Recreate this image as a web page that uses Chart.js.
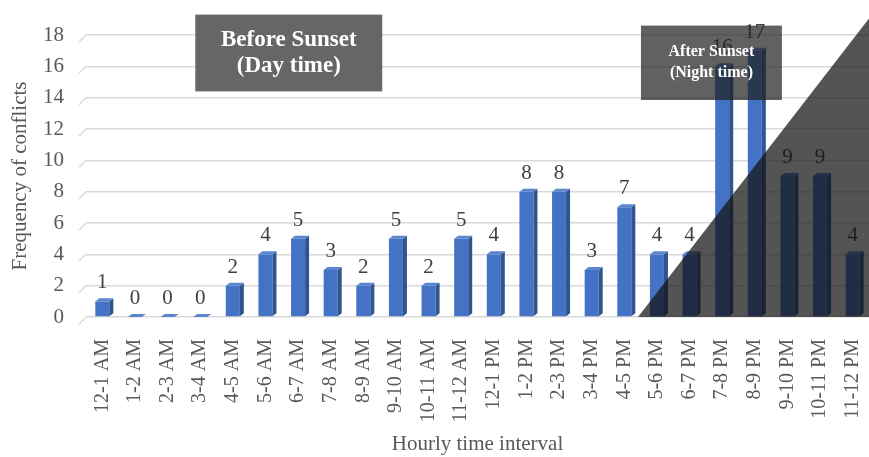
<!DOCTYPE html>
<html>
<head>
<meta charset="utf-8">
<script src="https://cdn.jsdelivr.net/npm/chart.js@4.4.1/dist/chart.umd.min.js"></script>
<style>
  html, body { margin: 0; padding: 0; background: #fff; }
  #wrap { width: 869px; height: 457px; }
</style>
</head>
<body>
<div id="wrap"><canvas id="conflictsChart"></canvas></div>
<script>
const hourLabels = [
  '12-1 AM', '1-2 AM', '2-3 AM', '3-4 AM', '4-5 AM', '5-6 AM', '6-7 AM', '7-8 AM',
  '8-9 AM', '9-10 AM', '10-11 AM', '11-12 AM', '12-1 PM', '1-2 PM', '2-3 PM', '3-4 PM',
  '4-5 PM', '5-6 PM', '6-7 PM', '7-8 PM', '8-9 PM', '9-10 PM', '10-11 PM', '11-12 PM'
];
const conflictCounts = [1, 0, 0, 0, 2, 4, 5, 3, 2, 5, 2, 5, 4, 8, 8, 3, 7, 4, 4, 16, 17, 9, 9, 4];
const yTicks = [0, 2, 4, 6, 8, 10, 12, 14, 16, 18];
const dayLabel = ['Before Sunset', '(Day time)'];
const nightLabel = ['After Sunset', '(Night time)'];

const serif = '"Liberation Serif", "Times New Roman", serif';

// overlay anchors, in data units (category index / count)
const dayBox = { x0: 2.85, x1: 8.58, y0: 19.3, y1: 14.4 };
const nightBox = { x0: 16.51, x1: 20.83, y0: 18.6, y1: 13.85 };
const nightTriangle = { xStart: 16.42, yTop: 19.05 };

// fake 3d: side and top faces, value labels, floor stubs on the grid
const bars3d = {
  id: 'bars3d',
  beforeDatasetsDraw(chart) {
    const { ctx, chartArea, scales: { y } } = chart;
    ctx.save();
    ctx.strokeStyle = '#d9d9d9';
    ctx.lineWidth = 1.5;
    yTicks.forEach(v => {
      const py = y.getPixelForValue(v);
      ctx.beginPath();
      ctx.moveTo(chartArea.left - 7, py + 7);
      ctx.lineTo(chartArea.left, py);
      ctx.stroke();
    });
    ctx.restore();
  },
  afterDatasetsDraw(chart) {
    const { ctx } = chart;
    const meta = chart.getDatasetMeta(0);
    const d = 4, rise = 3;
    ctx.save();
    meta.data.forEach((bar, i) => {
      const { x, y, base, width } = bar.getProps(['x', 'y', 'base', 'width'], true);
      const l = x - width / 2, r = x + width / 2;
      // side
      ctx.fillStyle = '#2f5590';
      ctx.beginPath();
      ctx.moveTo(r, y);
      ctx.lineTo(r + d, y - rise);
      ctx.lineTo(r + d, base - rise);
      ctx.lineTo(r, base);
      ctx.closePath();
      ctx.fill();
      // top
      ctx.fillStyle = '#5a86d0';
      ctx.beginPath();
      ctx.moveTo(l, y);
      ctx.lineTo(l + d, y - rise);
      ctx.lineTo(r + d, y - rise);
      ctx.lineTo(r, y);
      ctx.closePath();
      ctx.fill();
      // value
      ctx.fillStyle = '#404040';
      ctx.font = '21px ' + serif;
      ctx.textAlign = 'center';
      ctx.textBaseline = 'bottom';
      ctx.fillText(String(conflictCounts[i]), x, y - 8);
    });
    ctx.restore();
  },
  afterDraw(chart) {
    const { ctx, chartArea, scales: { x, y } } = chart;
    ctx.save();
    // night triangle
    ctx.fillStyle = 'rgba(18,18,18,0.72)';
    ctx.beginPath();
    ctx.moveTo(x.getPixelForValue(nightTriangle.xStart), y.getPixelForValue(0));
    ctx.lineTo(chartArea.right, y.getPixelForValue(0));
    ctx.lineTo(chartArea.right, y.getPixelForValue(nightTriangle.yTop));
    ctx.closePath();
    ctx.fill();

    const drawBox = (box, lines, fill, fontSize, gap) => {
      const bx0 = x.getPixelForValue(box.x0), bx1 = x.getPixelForValue(box.x1);
      const by0 = y.getPixelForValue(box.y0), by1 = y.getPixelForValue(box.y1);
      ctx.fillStyle = fill;
      ctx.fillRect(bx0, by0, bx1 - bx0, by1 - by0);
      ctx.fillStyle = '#ffffff';
      ctx.font = 'bold ' + fontSize + 'px ' + serif;
      ctx.textAlign = 'center';
      ctx.textBaseline = 'middle';
      const cx = (bx0 + bx1) / 2, cy = (by0 + by1) / 2;
      ctx.fillText(lines[0], cx, cy - gap / 2);
      ctx.fillText(lines[1], cx, cy + gap / 2);
    };
    drawBox(dayBox, dayLabel, '#666666', 23, 26);
    drawBox(nightBox, nightLabel, 'rgba(30,30,30,0.7)', 16, 21);
    ctx.restore();
  }
};

new Chart(document.getElementById('conflictsChart'), {
  type: 'bar',
  data: {
    labels: hourLabels,
    datasets: [{
      label: 'Frequency of conflicts',
      data: conflictCounts,
      backgroundColor: '#4472c4',
      borderWidth: 0,
      barPercentage: 0.43,
      categoryPercentage: 1
    }]
  },
  options: {
    responsive: true,
    maintainAspectRatio: false,
    animation: false,
    layout: { padding: { top: 35, right: 0, left: 0, bottom: 0 } },
    plugins: {
      legend: { display: false },
      tooltip: { enabled: false }
    },
    scales: {
      x: {
        afterFit(scale) {
          scale.paddingRight = 0;
          scale.paddingLeft = 0;
          scale.height = 140;
        },
        grid: { display: false },
        border: { display: false },
        ticks: {
          color: '#595959',
          font: { family: serif, size: 20 },
          minRotation: 90,
          maxRotation: 90,
          padding: 14,
          autoSkip: false
        },
        title: {
          display: true,
          text: 'Hourly time interval',
          color: '#595959',
          font: { family: serif, size: 21 },
          padding: { top: 4, bottom: 0 }
        }
      },
      y: {
        min: 0,
        max: 18,
        afterFit(scale) { scale.width = 86; },
        afterBuildTicks(scale) { scale.ticks = yTicks.map(v => ({ value: v })); },
        grid: { color: '#d9d9d9', lineWidth: 1.5, drawTicks: false },
        border: { display: false },
        ticks: {
          color: '#595959',
          font: { family: serif, size: 21 },
          padding: 22
        },
        title: {
          display: true,
          text: 'Frequency of conflicts',
          color: '#595959',
          font: { family: serif, size: 21 },
          padding: { top: 8, bottom: 0 }
        }
      }
    }
  },
  plugins: [bars3d]
});
</script>
</body>
</html>
